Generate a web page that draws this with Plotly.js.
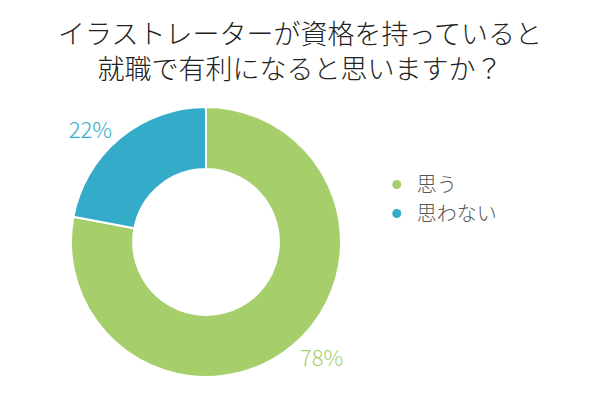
<!DOCTYPE html>
<html><head><meta charset="utf-8">
<script src="https://cdn.plot.ly/plotly-3.0.1.min.js"></script>
<style>html,body{margin:0;padding:0;background:#fff}</style>
</head><body>
<div id="chart" style="width:600px;height:400px"></div>
<script>
const categories = ["思う", "思わない"];
const values = [78, 22];
const colors = ["#a6cf6b", "#33abc9"];
const titleText = "イラストレーターが資格を持っていると<br>就職で有利になると思いますか？";
const font = "Noto Sans CJK JP, Noto Sans, sans-serif";

const pie = {
  type: "pie",
  labels: categories,
  values: values,
  sort: false,
  direction: "clockwise",
  rotation: 0,
  hole: 0.54,
  marker: {colors: colors, line: {color: "#ffffff", width: 2}},
  textinfo: "percent",
  texttemplate: "%{value}%",
  textposition: "outside",
  outsidetextfont: {family: font, size: 22, color: colors, weight: 300},
  domain: {x: [71/600, 341/600], y: [23/400, 293/400]},
  showlegend: false,
  hoverinfo: "skip"
};
const legendTraces = categories.map((c, i) => ({
  type: "scatter", mode: "markers", x: [null], y: [null], name: c,
  marker: {color: colors[i], size: 9, symbol: "circle"}, showlegend: true,
  hoverinfo: "skip"
}));
Plotly.newPlot("chart", [pie, ...legendTraces], {
  width: 600, height: 400,
  margin: {l: 0, r: 0, t: 0, b: 0},
  paper_bgcolor: "#fff", plot_bgcolor: "#fff",
  title: {text: titleText, font: {family: font, size: 27, color: "#222", weight: 300}, x: 0.5, xanchor: "center", yref: "container", y: 0.89, yanchor: "middle"},
  xaxis: {visible: false}, yaxis: {visible: false},
  legend: {x: 0.628, y: 0.5025, xanchor: "left", yanchor: "middle", font: {family: font, size: 20, color: "#555", weight: 300}, itemwidth: 30, tracegroupgap: 0},
  showlegend: true
}, {displayModeBar: false, staticPlot: true});
</script>
</body></html>
